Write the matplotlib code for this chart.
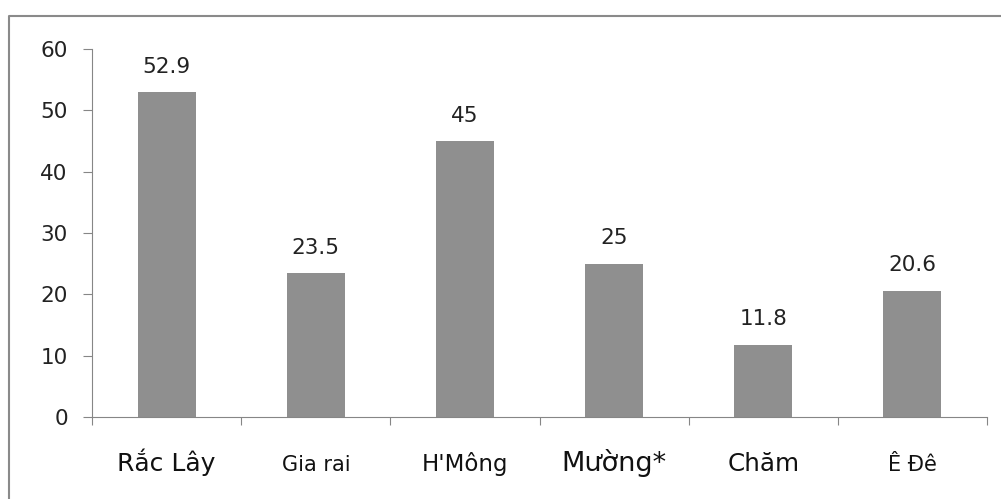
import matplotlib.pyplot as plt
from matplotlib.lines import Line2D
import numpy as np

groups = ["Rắc Lây", "Gia rai", "H'Mông", "Mường*", "Chăm", "Ê Đê"]
values = [52.9, 23.5, 45, 25, 11.8, 20.6]
value_labels = ["52.9", "23.5", "45", "25", "11.8", "20.6"]
# the source chart uses uneven sizes in its category labels
label_sizes = [18, 15, 16.5, 19.5, 17.7, 15]

plt.rcParams['font.family'] = ['DejaVu Sans']

fig = plt.figure(figsize=(10.01, 4.99), dpi=100)
# outer frame of the chart: only the top and left edges are inside the crop
fig.add_artist(Line2D([0.009, 0.009, 1.0], [0.0, 0.968, 0.968], transform=fig.transFigure,
                      color='#8a8a8a', linewidth=1.5))
ax = fig.add_axes([0.092, 0.164, 0.894, 0.738])

x = np.arange(len(groups))
ax.bar(x, values, width=0.39, color='#8f8f8f')
for xi, v, lab in zip(x, values, value_labels):
    ax.annotate(lab, (xi, v), xytext=(0, 11), textcoords='offset points',
                ha='center', va='bottom', fontsize=15.5, color='#222222')

ax.set_xlim(-0.5, len(groups) - 0.5)
ax.set_ylim(0, 60)
ax.set_yticks(range(0, 61, 10))
ax.tick_params(axis='y', labelsize=15.5, length=6.5, color='#868686', pad=11, labelcolor='#222222')

# category boundary ticks on the x axis
ax.set_xticks(np.arange(len(groups) + 1) - 0.5)
ax.set_xticklabels([])
ax.tick_params(axis='x', length=6, color='#868686')
for xi, name, fs in zip(x, groups, label_sizes):
    ax.text(xi, -0.147, name, transform=ax.get_xaxis_transform(), ha='center', va='baseline',
            fontsize=fs, color='#111111')

for side in ['top', 'right']:
    ax.spines[side].set_visible(False)
for side in ['left', 'bottom']:
    ax.spines[side].set_color('#868686')

fig.savefig('out.png', dpi=100)
